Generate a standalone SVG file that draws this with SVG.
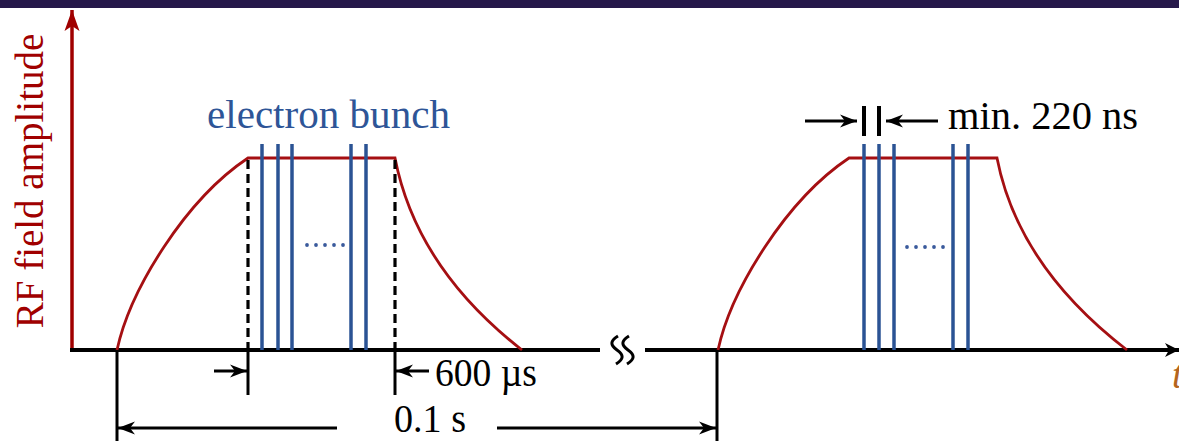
<svg xmlns="http://www.w3.org/2000/svg" width="1179" height="441" viewBox="0 0 1179 441">
<style>
.txt{font-family:"Liberation Serif","Times New Roman",serif;font-size:39px}
.red{stroke:#A50F12;stroke-width:2.8;fill:none}
.blue{stroke:#2B5394;stroke-width:3.5}
.blk{stroke:#000;stroke-width:3;fill:none}
.dash{stroke:#000;stroke-width:3.2;stroke-dasharray:9 5}
.dot{fill:#3A5A9C}
</style>
<defs>
<marker id="ah" markerUnits="userSpaceOnUse" markerWidth="24" markerHeight="16" viewBox="-18 -8 20 16" refX="0" refY="0" orient="auto">
<path d="M0,0 L-17,-6.5 L-12,0 L-17,6.5 Z" fill="#000"/>
</marker>
<marker id="ahr" markerUnits="userSpaceOnUse" markerWidth="26" markerHeight="18" viewBox="-22 -9 24 18" refX="0" refY="0" orient="auto">
<path d="M0,0 L-21,-7.5 L-16,0 L-21,7.5 Z" fill="#A00000"/>
</marker>
<marker id="ahx" markerUnits="userSpaceOnUse" markerWidth="20" markerHeight="18" viewBox="-16 -9 18 18" refX="0" refY="0" orient="auto">
<path d="M0,0 L-14,-7 L-10,0 L-14,7 Z" fill="#000"/>
</marker>
</defs>
<rect x="0" y="0" width="1179" height="441" fill="#fff"/>
<rect id="topbar" x="0" y="0" width="1179" height="8" fill="#26184A"/>

<g id="axes">
<line x1="72" y1="350" x2="72" y2="10" stroke="#A00000" stroke-width="3.5" marker-end="url(#ahr)"/>
<line x1="70" y1="350" x2="600" y2="350" stroke="#000" stroke-width="4"/>
<line x1="645" y1="350" x2="1179" y2="350" stroke="#000" stroke-width="4" marker-end="url(#ahx)"/>
<path d="M618,336 C610,341 610,345 617,350 C624,355 624,359 616,364 M629,336 C621,341 621,345 628,350 C635,355 635,359 627,364" stroke="#000" stroke-width="3" fill="none"/>
<text class="txt" fill="#A00000" text-anchor="middle" transform="translate(43,181) rotate(-90)" font-size="40">RF field amplitude</text>
<text class="txt" fill="#B5651D" font-style="italic" x="1172" y="388" font-size="32">t</text>
</g>

<g id="pulse1">
<path class="red" d="M117,350 C130,290 185,200 248,158 L395,158 C408,225 445,290 522,350"/>
<line class="dash" x1="248" y1="160" x2="248" y2="350"/>
<line class="dash" x1="395" y1="160" x2="395" y2="350"/>
<line class="blue" x1="262" y1="144" x2="262" y2="350"/>
<line class="blue" x1="278" y1="144" x2="278" y2="350"/>
<line class="blue" x1="292" y1="144" x2="292" y2="350"/>
<line class="blue" x1="351" y1="144" x2="351" y2="350"/>
<line class="blue" x1="366" y1="144" x2="366" y2="350"/>
<circle class="dot" cx="307" cy="245" r="1.9"/>
<circle class="dot" cx="316" cy="245" r="1.9"/>
<circle class="dot" cx="325" cy="245" r="1.9"/>
<circle class="dot" cx="334" cy="245" r="1.9"/>
<circle class="dot" cx="343" cy="245" r="1.9"/>
<text class="txt" fill="#2E5597" x="207" y="128" textLength="243" lengthAdjust="spacingAndGlyphs">electron bunch</text>
</g>

<g id="pulse2">
<path class="red" d="M718,350 C731,290 786,200 849,158 L997,158 C1010,225 1049,290 1127,350"/>
<line class="blue" x1="864" y1="144" x2="864" y2="350"/>
<line class="blue" x1="879" y1="144" x2="879" y2="350"/>
<line class="blue" x1="894" y1="144" x2="894" y2="350"/>
<line class="blue" x1="953" y1="144" x2="953" y2="350"/>
<line class="blue" x1="968" y1="144" x2="968" y2="350"/>
<circle class="dot" cx="907" cy="247" r="1.9"/>
<circle class="dot" cx="916" cy="247" r="1.9"/>
<circle class="dot" cx="925" cy="247" r="1.9"/>
<circle class="dot" cx="934" cy="247" r="1.9"/>
<circle class="dot" cx="943" cy="247" r="1.9"/>
</g>

<g id="connectors">
<line class="blk" x1="117" y1="350" x2="117" y2="441"/>
<line class="blk" x1="248" y1="350" x2="248" y2="395"/>
<line class="blk" x1="395" y1="350" x2="395" y2="395"/>
<line class="blk" x1="717" y1="350" x2="717" y2="441"/>
<line class="blk" x1="214" y1="371" x2="247" y2="371" marker-end="url(#ah)"/>
<line class="blk" x1="429" y1="371" x2="396" y2="371" marker-end="url(#ah)"/>
<line class="blk" x1="337" y1="428" x2="118" y2="428" marker-end="url(#ah)"/>
<line class="blk" x1="497" y1="428" x2="716" y2="428" marker-end="url(#ah)"/>
<line stroke="#000" stroke-width="4" x1="864" y1="106" x2="864" y2="136"/>
<line stroke="#000" stroke-width="4" x1="879" y1="106" x2="879" y2="136"/>
<line class="blk" x1="805" y1="121" x2="857" y2="121" marker-end="url(#ah)"/>
<line class="blk" x1="938" y1="121" x2="886" y2="121" marker-end="url(#ah)"/>
</g>

<g id="labels">
<text class="txt" fill="#000" x="435" y="386" font-size="36" textLength="102" lengthAdjust="spacingAndGlyphs">600 µs</text>
<text class="txt" fill="#000" x="394" y="432" font-size="34" textLength="72" lengthAdjust="spacingAndGlyphs">0.1 s</text>
<text class="txt" fill="#000" x="948" y="129" textLength="190" lengthAdjust="spacingAndGlyphs">min. 220 ns</text>
</g>
</svg>
